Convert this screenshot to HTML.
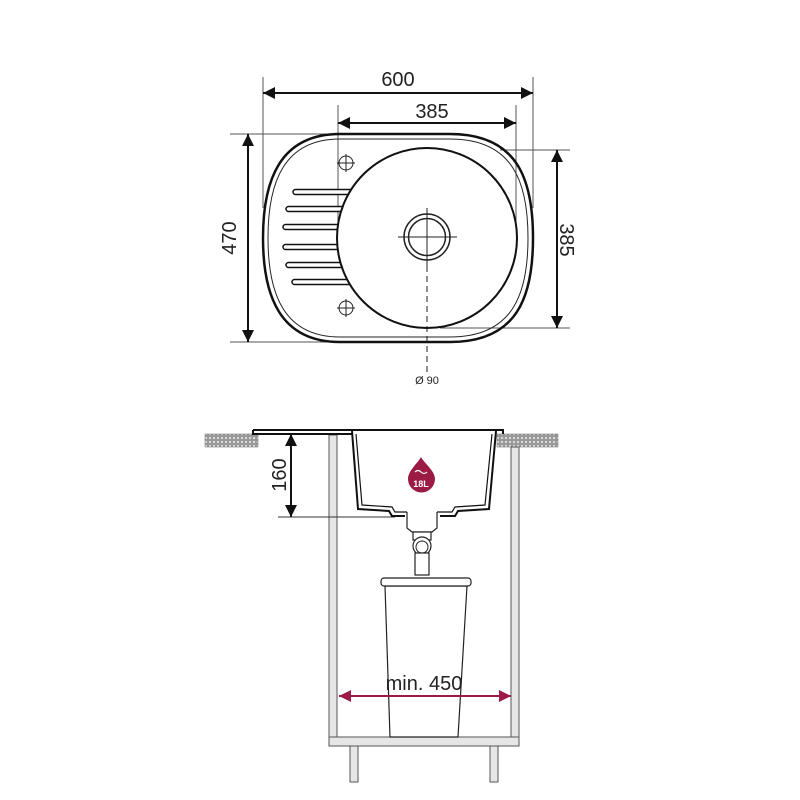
<!DOCTYPE html>
<html><head><meta charset="utf-8"><style>html,body{margin:0;padding:0;background:#fff}svg{display:block}</style></head>
<body>
<svg width="800" height="800" viewBox="0 0 800 800" xmlns="http://www.w3.org/2000/svg" font-family="Liberation Sans, sans-serif">
<defs>
<marker id="ab" viewBox="0 0 10 10" refX="10" refY="5" markerWidth="18" markerHeight="12" orient="auto-start-reverse" markerUnits="userSpaceOnUse"><path d="M0 0L10 5L0 10z" fill="#111"/></marker>
<marker id="ar" viewBox="0 0 10 10" refX="10" refY="5" markerWidth="18" markerHeight="12" orient="auto-start-reverse" markerUnits="userSpaceOnUse"><path d="M0 0L10 5L0 10z" fill="#9b1b45"/></marker>
<pattern id="h" width="4" height="4" patternUnits="userSpaceOnUse"><rect width="4" height="4" fill="#999"/><circle cx="2" cy="2" r="1" fill="#eee"/></pattern>
</defs>
<g stroke="#555" stroke-width="1" fill="none">
<line x1="263" y1="77" x2="263" y2="208"/><line x1="533" y1="77" x2="533" y2="208"/>
<line x1="338" y1="105" x2="338" y2="250"/><line x1="516" y1="105" x2="516" y2="240"/>
<line x1="230" y1="134" x2="430" y2="134"/><line x1="230" y1="342" x2="380" y2="342"/>
<line x1="500" y1="150" x2="570" y2="150"/><line x1="440" y1="328" x2="570" y2="328"/>
</g>
<g stroke="#111" stroke-width="2" fill="none">
<line x1="263" y1="93" x2="533" y2="93" marker-start="url(#ab)" marker-end="url(#ab)"/>
<line x1="338" y1="123" x2="516" y2="123" marker-start="url(#ab)" marker-end="url(#ab)"/>
<line x1="248" y1="134" x2="248" y2="342" marker-start="url(#ab)" marker-end="url(#ab)"/>
<line x1="557" y1="150" x2="557" y2="328" marker-start="url(#ab)" marker-end="url(#ab)"/>
<line x1="291" y1="434" x2="291" y2="517" marker-start="url(#ab)" marker-end="url(#ab)"/>
</g>
<g font-size="20" fill="#222" text-anchor="middle">
<text x="398" y="86">600</text>
<text x="432" y="118">385</text>
<text transform="translate(236,238) rotate(-90)">470</text>
<text transform="translate(560,240) rotate(90)">385</text>
<text transform="translate(286,475) rotate(-90)">160</text>
<text x="427" y="384" font-size="11">Ø 90</text>
</g>
<path d="M340 134 L450 134 C518 134 533 180 533 238 C533 296 518 342 450 342 L340 342 C280 342 263 296 263 238 C263 180 280 134 340 134Z" fill="none" stroke="#111" stroke-width="2.5"/>
<path d="M340 139 L450 139 C513 139 528 182 528 238 C528 294 513 337 450 337 L340 337 C284 337 268 294 268 238 C268 182 284 139 340 139Z" fill="none" stroke="#222" stroke-width="1"/>
<g fill="#fff" stroke="#111" stroke-width="1.5">
<rect x="293" y="189.5" width="70" height="5" rx="2.5"/>
<rect x="286" y="206.5" width="70" height="5" rx="2.5"/>
<rect x="283" y="224.5" width="70" height="5" rx="2.5"/>
<rect x="283" y="244.5" width="70" height="5" rx="2.5"/>
<rect x="286" y="262.5" width="70" height="5" rx="2.5"/>
<rect x="292" y="279.5" width="70" height="5" rx="2.5"/>
</g>
<circle cx="427" cy="238" r="90" fill="#fff" stroke="#111" stroke-width="2"/>
<g stroke="#222" stroke-width="1" fill="none">
<circle cx="346" cy="163" r="7"/><line x1="337" y1="163" x2="355" y2="163"/><line x1="346" y1="154" x2="346" y2="172"/>
<circle cx="346" cy="308" r="7"/><line x1="337" y1="308" x2="355" y2="308"/><line x1="346" y1="299" x2="346" y2="317"/>
<circle cx="427" cy="237" r="23" stroke-width="1.5"/><circle cx="427" cy="237" r="18.5" stroke-width="1.5"/>
<line x1="398" y1="237" x2="457" y2="237"/><line x1="427" y1="208" x2="427" y2="266"/>
<line x1="427" y1="266" x2="427" y2="373" stroke-dasharray="6,4"/>
</g>
<rect x="205" y="434" width="53" height="13" fill="url(#h)" stroke="#666" stroke-width="0.5"/>
<rect x="497" y="434" width="61" height="13" fill="url(#h)" stroke="#666" stroke-width="0.5"/>
<g fill="#e6e6e6" stroke="#555" stroke-width="1">
<rect x="329" y="435" width="8" height="302"/>
<rect x="511" y="447" width="8" height="290"/>
<rect x="329" y="737" width="190" height="9"/>
<rect x="350" y="746" width="8" height="36"/>
<rect x="490" y="746" width="8" height="36"/>
</g>
<line x1="278" y1="517" x2="395" y2="517" stroke="#333" stroke-width="1"/>
<g stroke="#111" fill="none" stroke-width="2">
<path d="M253 430 L503 430 L503 434"/>
<path d="M253 430 L253 434 L352 434"/>
<path d="M352 431 L358 509 L389 511 L392 516 L405 516"/>
<path d="M356 434 L362 505 L392 507 L395 512 L407 512" stroke-width="1.2"/>
<path d="M496 431 L489 509 L458 511 L455 516 L440 516"/>
<path d="M492 434 L485 505 L455 507 L452 512 L437 512" stroke-width="1.2"/>
</g>
<g stroke="#222" stroke-width="1.2" fill="#fff">
<path d="M407 512 L407 528 L412 532 L432 532 L437 528 L437 512"/>
<rect x="413" y="532" width="18" height="8"/>
<circle cx="422" cy="546" r="9"/>
<rect x="415" y="553" width="14" height="22"/>
<path d="M385 586 L467 586 L458 737 L390 737Z"/>
<rect x="381" y="578" width="90" height="8" rx="3"/>
</g>
<circle cx="422" cy="547" r="6" fill="none" stroke="#222" stroke-width="1"/>
<line x1="339" y1="696" x2="511" y2="696" stroke="#9b1b45" stroke-width="2" marker-start="url(#ar)" marker-end="url(#ar)"/>
<text x="424" y="690" font-size="20" fill="#222" text-anchor="middle">min. 450</text>
<path d="M421 457 C425 464 435 471 435 479 A13 13 0 0 1 408 479 C408 471 417 464 421 457Z" fill="#9b1b45"/>
<path d="M415 472 q3 -3 6 0 t6 0" stroke="#fff" stroke-width="1.2" fill="none"/>
<text x="421" y="487" font-size="9" font-weight="bold" fill="#fff" text-anchor="middle">18L</text>
</svg>
</body></html>
